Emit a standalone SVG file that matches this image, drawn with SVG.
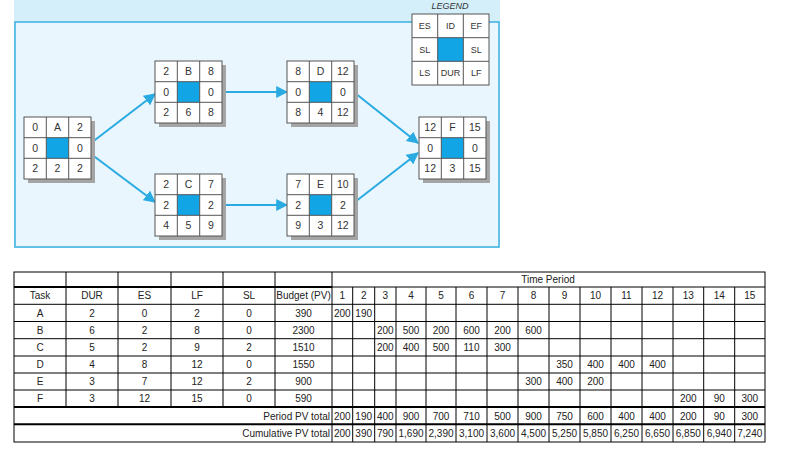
<svg xmlns="http://www.w3.org/2000/svg" xmlns:xlink="http://www.w3.org/1999/xlink" width="811" height="460" viewBox="0 0 811 460">
<style>
.n{font-family:"Liberation Sans",Arial,sans-serif;font-size:10.5px;fill:#333;text-anchor:middle}
.lg{font-family:"Liberation Sans",Arial,sans-serif;font-size:9px;fill:#333;text-anchor:middle}
.t{font-family:"Liberation Sans",Arial,sans-serif;font-size:10px;fill:#222;text-anchor:middle}
.r{text-anchor:end}
.c{stroke:#29abe2;stroke-width:2;fill:none;marker-end:url(#ah)}
.g{stroke:#000;stroke-width:1;fill:none}
.k{stroke:#000;stroke-width:2;fill:none}
</style>
<defs>
<marker id="ah" viewBox="0 0 10 10" refX="9" refY="5" markerWidth="6" markerHeight="6" orient="auto"><path d="M0,0 L10,5 L0,10 z" fill="#29abe2"/></marker>
<g id="frame">
<rect x="4" y="4" width="67" height="62" fill="#a5a5a5"/>
<rect x="0" y="0" width="67" height="62" fill="#fff" stroke="#555"/>
<rect x="22.3" y="20.7" width="22.3" height="20.7" fill="#12a5e6"/>
<path d="M22.3,0V62M44.7,0V62M0,20.7H67M0,41.3H67" stroke="#555" fill="none"/>
</g>
</defs>
<rect x="0" y="0" width="811" height="460" fill="#fff"/>
<rect x="14" y="0" width="486" height="248" fill="#d4eefa"/>
<rect x="15" y="22" width="484" height="225" fill="#e9f6fd" stroke="#3ab0e0" stroke-width="1.5"/>
<g id="legend">
<text x="450" y="9" class="lg" font-style="italic">LEGEND</text>
<rect x="412" y="14" width="77" height="71" fill="#fff" stroke="#555"/>
<rect x="437.7" y="37.7" width="25.7" height="23.7" fill="#12a5e6"/>
<path d="M437.7,14V85M463.3,14V85M412,37.7H489M412,61.3H489" stroke="#555"/>
<text x="424.8" y="29" class="lg">ES</text><text x="450.5" y="29" class="lg">ID</text><text x="476.2" y="29" class="lg">EF</text>
<text x="424.8" y="52.5" class="lg">SL</text><text x="476.2" y="52.5" class="lg">SL</text>
<text x="424.8" y="76" class="lg">LS</text><text x="450.5" y="76" class="lg">DUR</text><text x="476.2" y="76" class="lg">LF</text>
</g>
<g id="connectors">
<path class="c" d="M91,143 L155,94"/>
<path class="c" d="M91,154 L155,202"/>
<path class="c" d="M223,92 L287,92"/>
<path class="c" d="M223,205 L287,205"/>
<path class="c" d="M355,93 L418,143"/>
<path class="c" d="M355,202 L418,153"/>
</g>
<g id="nodeA" transform="translate(24,117)"><use xlink:href="#frame"/>
<text class="n" x="11.2" y="14">0</text><text class="n" x="33.5" y="14">A</text><text class="n" x="55.8" y="14">2</text>
<text class="n" x="11.2" y="34.7">0</text><text class="n" x="55.8" y="34.7">0</text>
<text class="n" x="11.2" y="55.4">2</text><text class="n" x="33.5" y="55.4">2</text><text class="n" x="55.8" y="55.4">2</text></g>
<g id="nodeB" transform="translate(155,61)"><use xlink:href="#frame"/>
<text class="n" x="11.2" y="14">2</text><text class="n" x="33.5" y="14">B</text><text class="n" x="55.8" y="14">8</text>
<text class="n" x="11.2" y="34.7">0</text><text class="n" x="55.8" y="34.7">0</text>
<text class="n" x="11.2" y="55.4">2</text><text class="n" x="33.5" y="55.4">6</text><text class="n" x="55.8" y="55.4">8</text></g>
<g id="nodeD" transform="translate(287,61)"><use xlink:href="#frame"/>
<text class="n" x="11.2" y="14">8</text><text class="n" x="33.5" y="14">D</text><text class="n" x="55.8" y="14">12</text>
<text class="n" x="11.2" y="34.7">0</text><text class="n" x="55.8" y="34.7">0</text>
<text class="n" x="11.2" y="55.4">8</text><text class="n" x="33.5" y="55.4">4</text><text class="n" x="55.8" y="55.4">12</text></g>
<g id="nodeC" transform="translate(155,174)"><use xlink:href="#frame"/>
<text class="n" x="11.2" y="14">2</text><text class="n" x="33.5" y="14">C</text><text class="n" x="55.8" y="14">7</text>
<text class="n" x="11.2" y="34.7">2</text><text class="n" x="55.8" y="34.7">2</text>
<text class="n" x="11.2" y="55.4">4</text><text class="n" x="33.5" y="55.4">5</text><text class="n" x="55.8" y="55.4">9</text></g>
<g id="nodeE" transform="translate(287,174)"><use xlink:href="#frame"/>
<text class="n" x="11.2" y="14">7</text><text class="n" x="33.5" y="14">E</text><text class="n" x="55.8" y="14">10</text>
<text class="n" x="11.2" y="34.7">2</text><text class="n" x="55.8" y="34.7">2</text>
<text class="n" x="11.2" y="55.4">9</text><text class="n" x="33.5" y="55.4">3</text><text class="n" x="55.8" y="55.4">12</text></g>
<g id="nodeF" transform="translate(419,117)"><use xlink:href="#frame"/>
<text class="n" x="11.2" y="14">12</text><text class="n" x="33.5" y="14">F</text><text class="n" x="55.8" y="14">15</text>
<text class="n" x="11.2" y="34.7">0</text><text class="n" x="55.8" y="34.7">0</text>
<text class="n" x="11.2" y="55.4">12</text><text class="n" x="33.5" y="55.4">3</text><text class="n" x="55.8" y="55.4">15</text></g>
<g id="table">
<rect x="14" y="272" width="751" height="170" class="g"/>
<path class="g" d="M66,272V407M118,272V407M171,272V407M223,272V407M275,272V407M332,272V442"/>
<path class="g" d="M352.7,287V442M374.7,287V442M396,287V442M426,287V442M456,287V442M487,287V442M518,287V442M549,287V442M580,287V442M611,287V442M642,287V442M673,287V442M703.7,287V442M734.7,287V442"/>
<path class="k" d="M14,287H332M14,407H765M14,424.3H765"/>
<path class="g" d="M332,287H765M14,304.3H765M14,321.5H765M14,338.7H765M14,356H765M14,373H765M14,390H765"/>
<text class="t" x="548" y="283">Time Period</text>
<g>
<text class="t" x="40" y="299">Task</text><text class="t" x="92" y="299">DUR</text><text class="t" x="144.5" y="299">ES</text><text class="t" x="197" y="299">LF</text><text class="t" x="249" y="299">SL</text><text class="t" x="303.5" y="299">Budget (PV)</text>
<text class="t" x="342.3" y="299">1</text><text class="t" x="363.7" y="299">2</text><text class="t" x="385.3" y="299">3</text><text class="t" x="411" y="299">4</text><text class="t" x="441" y="299">5</text><text class="t" x="471.5" y="299">6</text><text class="t" x="502.5" y="299">7</text><text class="t" x="533.5" y="299">8</text><text class="t" x="564.5" y="299">9</text><text class="t" x="595.5" y="299">10</text><text class="t" x="626.5" y="299">11</text><text class="t" x="657.5" y="299">12</text><text class="t" x="688.3" y="299">13</text><text class="t" x="719.2" y="299">14</text><text class="t" x="749.8" y="299">15</text>
</g>
<g>
<text class="t" x="40" y="316.5">A</text><text class="t" x="92" y="316.5">2</text><text class="t" x="144.5" y="316.5">0</text><text class="t" x="197" y="316.5">2</text><text class="t" x="249" y="316.5">0</text><text class="t" x="303.5" y="316.5">390</text><text class="t" x="342.3" y="316.5">200</text><text class="t" x="363.7" y="316.5">190</text>
<text class="t" x="40" y="333.5">B</text><text class="t" x="92" y="333.5">6</text><text class="t" x="144.5" y="333.5">2</text><text class="t" x="197" y="333.5">8</text><text class="t" x="249" y="333.5">0</text><text class="t" x="303.5" y="333.5">2300</text><text class="t" x="385.3" y="333.5">200</text><text class="t" x="411" y="333.5">500</text><text class="t" x="441" y="333.5">200</text><text class="t" x="471.5" y="333.5">600</text><text class="t" x="502.5" y="333.5">200</text><text class="t" x="533.5" y="333.5">600</text>
<text class="t" x="40" y="351">C</text><text class="t" x="92" y="351">5</text><text class="t" x="144.5" y="351">2</text><text class="t" x="197" y="351">9</text><text class="t" x="249" y="351">2</text><text class="t" x="303.5" y="351">1510</text><text class="t" x="385.3" y="351">200</text><text class="t" x="411" y="351">400</text><text class="t" x="441" y="351">500</text><text class="t" x="471.5" y="351">110</text><text class="t" x="502.5" y="351">300</text>
<text class="t" x="40" y="368">D</text><text class="t" x="92" y="368">4</text><text class="t" x="144.5" y="368">8</text><text class="t" x="197" y="368">12</text><text class="t" x="249" y="368">0</text><text class="t" x="303.5" y="368">1550</text><text class="t" x="564.5" y="368">350</text><text class="t" x="595.5" y="368">400</text><text class="t" x="626.5" y="368">400</text><text class="t" x="657.5" y="368">400</text>
<text class="t" x="40" y="385">E</text><text class="t" x="92" y="385">3</text><text class="t" x="144.5" y="385">7</text><text class="t" x="197" y="385">12</text><text class="t" x="249" y="385">2</text><text class="t" x="303.5" y="385">900</text><text class="t" x="533.5" y="385">300</text><text class="t" x="564.5" y="385">400</text><text class="t" x="595.5" y="385">200</text>
<text class="t" x="40" y="402">F</text><text class="t" x="92" y="402">3</text><text class="t" x="144.5" y="402">12</text><text class="t" x="197" y="402">15</text><text class="t" x="249" y="402">0</text><text class="t" x="303.5" y="402">590</text><text class="t" x="688.3" y="402">200</text><text class="t" x="719.2" y="402">90</text><text class="t" x="749.8" y="402">300</text>
</g>
<g>
<text class="t r" x="330" y="419.5">Period PV total</text>
<text class="t" x="342.3" y="419.5">200</text><text class="t" x="363.7" y="419.5">190</text><text class="t" x="385.3" y="419.5">400</text><text class="t" x="411" y="419.5">900</text><text class="t" x="441" y="419.5">700</text><text class="t" x="471.5" y="419.5">710</text><text class="t" x="502.5" y="419.5">500</text><text class="t" x="533.5" y="419.5">900</text><text class="t" x="564.5" y="419.5">750</text><text class="t" x="595.5" y="419.5">600</text><text class="t" x="626.5" y="419.5">400</text><text class="t" x="657.5" y="419.5">400</text><text class="t" x="688.3" y="419.5">200</text><text class="t" x="719.2" y="419.5">90</text><text class="t" x="749.8" y="419.5">300</text>
<text class="t r" x="330" y="437">Cumulative PV total</text>
<text class="t" x="342.3" y="437">200</text><text class="t" x="363.7" y="437">390</text><text class="t" x="385.3" y="437">790</text><text class="t" x="411" y="437">1,690</text><text class="t" x="441" y="437">2,390</text><text class="t" x="471.5" y="437">3,100</text><text class="t" x="502.5" y="437">3,600</text><text class="t" x="533.5" y="437">4,500</text><text class="t" x="564.5" y="437">5,250</text><text class="t" x="595.5" y="437">5,850</text><text class="t" x="626.5" y="437">6,250</text><text class="t" x="657.5" y="437">6,650</text><text class="t" x="688.3" y="437">6,850</text><text class="t" x="719.2" y="437">6,940</text><text class="t" x="749.8" y="437">7,240</text>
</g>
</g>
</svg>
